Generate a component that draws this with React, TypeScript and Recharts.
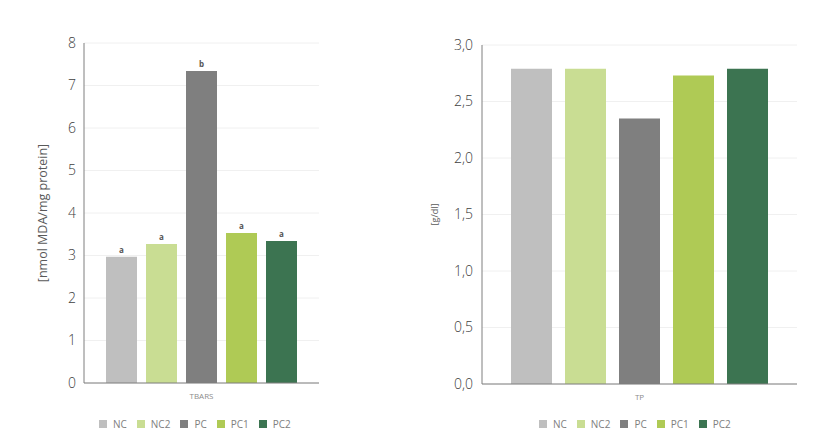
import React from 'react'
import { BarChart, Bar, XAxis, YAxis, CartesianGrid, Legend, LabelList } from 'recharts'

const GROUPS = ['NC', 'NC2', 'PC', 'PC1', 'PC2']
const COLORS = ['#bfbfbf', '#c9dd93', '#7f7f7f', '#afca55', '#3c7451']

const TBARS_VALUES = [2.97, 3.27, 7.34, 3.53, 3.34]
const TBARS_LETTERS = ['a', 'a', 'b', 'a', 'a']
const TBARS_TICKS = [0, 1, 2, 3, 4, 5, 6, 7, 8]

const TP_VALUES = [2.79, 2.79, 2.35, 2.73, 2.79]
const TP_TICKS = [0, 0.5, 1, 1.5, 2, 2.5, 3]

const FONT = '"Open Sans", sans-serif'
const AXIS_COLOR = '#7f7f7f'
const TEXT_COLOR = '#595959'
const TICK_COLOR = '#404040'

const buildRow = (category: string, values: number[]) => {
  const row: Record<string, string | number> = { category }
  GROUPS.forEach((g, i) => {
    row[g] = values[i]
  })
  return [row]
}

const tbarsData = buildRow('TBARS', TBARS_VALUES)
const tpData = buildRow('TP', TP_VALUES)

const renderLegend = (props: any) => {
  const { payload } = props
  return (
    <div style={{ display: 'flex', alignItems: 'center', fontFamily: FONT, fontSize: 10, color: '#808080' }}>
      {payload.map((entry: any) => (
        <div key={entry.value} style={{ display: 'flex', alignItems: 'center', marginRight: 10 }}>
          <div style={{ width: 8, height: 8, background: entry.color, marginRight: 6 }} />
          <span>{entry.value}</span>
        </div>
      ))}
    </div>
  )
}

export default function App() {
  return (
    <div style={{ position: 'absolute', left: 0, top: 0, width: 828, height: 444, background: '#fff' }}>
      <div style={{ position: 'absolute', left: 0, top: 0 }}>
        <BarChart
          width={360}
          height={444}
          data={tbarsData}
          margin={{ top: 43, right: 41, left: 2, bottom: 31 }}
          barSize={31}
          barGap={9}
        >
          <CartesianGrid vertical={false} stroke="#f0f0f0" />
          <XAxis
            dataKey="category"
            height={30}
            axisLine={{ stroke: AXIS_COLOR }}
            tickLine={false}
            tickSize={6}
            tickMargin={4}
            tick={{ fontSize: 8, fill: '#8c8c8c', fontFamily: FONT }}
          />
          <YAxis
            width={82}
            domain={[0, 8]}
            ticks={TBARS_TICKS}
            interval={0}
            axisLine={{ stroke: AXIS_COLOR }}
            tickLine={false}
            tickSize={0}
            tickMargin={8}
            tick={{ fontSize: 14, fill: TICK_COLOR, fontFamily: FONT, fontWeight: 300 }}
            label={{
              value: '[nmol MDA/mg protein]',
              angle: -90,
              position: 'center',
              style: { fontSize: 12.5, fill: TEXT_COLOR, fontFamily: FONT },
            }}
          />
          <Legend
            layout="horizontal"
            verticalAlign="middle"
            align="center"
            content={renderLegend}
            wrapperStyle={{ left: 99, top: 417, width: 240 }}
          />
          {GROUPS.map((g, i) => (
            <Bar key={g} dataKey={g} name={g} fill={COLORS[i]} isAnimationActive={false}>
              <LabelList
                dataKey={g}
                position="top"
                offset={4}
                formatter={() => TBARS_LETTERS[i]}
                style={{ fontSize: 8, fontWeight: 700, fill: '#555', fontFamily: FONT }}
              />
            </Bar>
          ))}
        </BarChart>
      </div>

      <div style={{ position: 'absolute', left: 380, top: 0 }}>
        <BarChart
          width={448}
          height={444}
          data={tpData}
          margin={{ top: 45, right: 31, left: 8, bottom: 30 }}
          barSize={41}
          barGap={13}
        >
          <CartesianGrid vertical={false} stroke="#f0f0f0" />
          <XAxis
            dataKey="category"
            height={30}
            axisLine={{ stroke: AXIS_COLOR }}
            tickLine={false}
            tickSize={6}
            tickMargin={4}
            tick={{ fontSize: 8, fill: '#8c8c8c', fontFamily: FONT }}
          />
          <YAxis
            width={94}
            domain={[0, 3]}
            ticks={TP_TICKS}
            interval={0}
            axisLine={{ stroke: AXIS_COLOR }}
            tickLine={false}
            tickSize={0}
            tickMargin={9}
            tickFormatter={(v: number) => v.toFixed(1).replace('.', ',')}
            tick={{ fontSize: 14, fill: TICK_COLOR, fontFamily: FONT, fontWeight: 300 }}
            label={{
              value: '[g/dl]',
              angle: -90,
              position: 'center',
              style: { fontSize: 9, fill: TEXT_COLOR, fontFamily: FONT },
            }}
          />
          <Legend
            layout="horizontal"
            verticalAlign="middle"
            align="center"
            content={renderLegend}
            wrapperStyle={{ left: 159, top: 417, width: 240 }}
          />
          {GROUPS.map((g, i) => (
            <Bar key={g} dataKey={g} name={g} fill={COLORS[i]} isAnimationActive={false} />
          ))}
        </BarChart>
      </div>
    </div>
  )
}
